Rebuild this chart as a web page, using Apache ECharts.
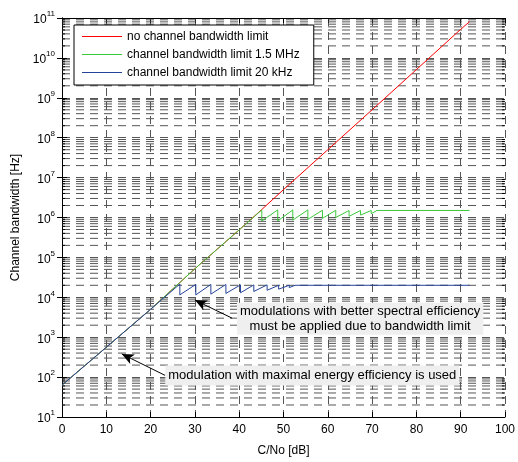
<!DOCTYPE html>
<html><head><meta charset="utf-8">
<script src="https://cdn.jsdelivr.net/npm/echarts@6/dist/echarts.min.js"></script>
<style>html,body{margin:0;padding:0;background:#fff}#c{width:518px;height:462px}</style>
</head><body><div id="c"></div>
<script>
const FONT = 'Liberation Sans, Arial, Helvetica, sans-serif';
const xTicks = [0,10,20,30,40,50,60,70,80,90,100];
const yMin = 10, yMax = 1e11;
const decades = [10,100,1e3,1e4,1e5,1e6,1e7,1e8,1e9,1e10];
const mantissas = [2,3,4,5,6,7,8,9];

const seriesNames = ['no channel bandwidth limit','channel bandwidth limit 1.5 MHz','channel bandwidth limit 20 kHz'];

const redX = [0, 10, 20, 30, 40, 45, 50, 60, 70, 80, 90, 92];
const redY = [63, 560, 5.0e3, 5.2e4, 4.9e5, 1.55e6, 5.0e6, 5.0e7, 5.0e8, 5.1e9, 5.2e10, 8.1e10];

const greenX = [0,10,20,30,40,45.1,45.1,48.7,48.7,52.1,52.1,55.5,55.5,58.8,58.8,61.8,61.8,64.8,64.8,67.4,67.4,69.8,69.8,71.1,92];
const greenY = [63,560,5.0e3,5.2e4,4.9e5,1.55e6,8.2e5,1.55e6,8.2e5,1.55e6,8.6e5,1.55e6,9.0e5,1.52e6,9.5e5,1.52e6,1.0e6,1.5e6,1.07e6,1.5e6,1.15e6,1.5e6,1.25e6,1.5e6,1.5e6];

const blueX = [0,10,20,26.6,26.6,30.2,30.2,33.6,33.6,37.0,37.0,40.3,40.3,43.3,43.3,46.3,46.3,48.9,48.9,51.3,51.3,52.6,92];
const blueY = [63,560,5.0e3,2.15e4,1.15e4,2.1e4,1.15e4,2.1e4,1.2e4,2.1e4,1.25e4,2.05e4,1.3e4,2.05e4,1.4e4,2.05e4,1.5e4,2.0e4,1.6e4,2.0e4,1.75e4,2.0e4,2.0e4];

// annotations (data coordinates)
const ann1Text = 'modulations with better spectral efficiency\nmust be applied due to bandwidth limit';
const ann1Center = [67.3, 2900];
const ann1From = [38.4, 3000];
const ann1Tip = [30.0, 8.5e3];
const ann2Text = 'modulation with maximal energy efficiency is used';
const ann2Center = [56.5, 110];
const ann2From = [23.3, 110];
const ann2Tip = [13.5, 380];

const zip = (xs, ys) => xs.map((x, i) => [x, ys[i]]);
const minorVals = [];
decades.forEach(d => mantissas.forEach(m => minorVals.push([0, d * m])));

const gridDash = [8, 6];
const gridColor = '#555';

const chart = echarts.init(document.getElementById('c'), null, {renderer: 'canvas'});
const labelRich = {
  b: {fontSize: 12, fontFamily: FONT, color: '#000', lineHeight: 16, verticalAlign: 'bottom'},
  s: {fontSize: 8, fontFamily: FONT, color: '#000', lineHeight: 6, verticalAlign: 'top'}
};
const option = {
  backgroundColor: '#fff',
  animation: false,
  textStyle: {fontFamily: FONT},
  grid: {left: 62, right: 13, top: 18, bottom: 38, containLabel: false},
  legend: {
    data: seriesNames,
    orient: 'vertical', left: 74, top: 25,
    icon: 'rect', itemWidth: 40, itemHeight: 1, itemGap: 5,
    padding: [5, 14, 6, 8],
    backgroundColor: '#fff', borderColor: '#000', borderWidth: 1, borderRadius: 0,
    textStyle: {fontSize: 12, color: '#000', fontFamily: FONT, lineHeight: 13},
    selectedMode: false
  },
  xAxis: [{
    type: 'value', min: 0, max: 100, interval: 10, position: 'bottom',
    name: 'C/No [dB]', nameLocation: 'middle', nameGap: 28,
    nameTextStyle: {fontSize: 12, color: '#000', fontFamily: FONT},
    axisLine: {lineStyle: {color: '#000', width: 1}},
    axisTick: {inside: true, length: 5, lineStyle: {color: '#000'}},
    axisLabel: {fontSize: 12, color: '#000', margin: 7, fontFamily: FONT},
    splitLine: {show: true, lineStyle: {color: gridColor, type: gridDash, width: 1}}
  }, {
    type: 'value', min: 0, max: 100, interval: 10, position: 'top',
    axisLine: {lineStyle: {color: '#000', width: 1}},
    axisTick: {inside: true, length: 5, lineStyle: {color: '#000'}},
    axisLabel: {show: false}, splitLine: {show: false}
  }],
  yAxis: [{
    type: 'log', logBase: 10, min: yMin, max: yMax, interval: 1, position: 'left',
    name: 'Channel bandwidth [Hz]', nameLocation: 'middle', nameGap: 33,
    nameTextStyle: {fontSize: 12, color: '#000', fontFamily: FONT},
    axisLine: {show: true, lineStyle: {color: '#000', width: 1}},
    axisTick: {inside: true, length: 5, lineStyle: {color: '#000'}},
    axisLabel: {
      margin: 7, rich: labelRich,
      formatter: v => '{b|10}{s|' + Math.round(Math.log10(v)) + '}'
    },
    splitLine: {show: true, lineStyle: {color: gridColor, type: gridDash, width: 1}}
  }, {
    type: 'log', logBase: 10, min: yMin, max: yMax, interval: 1, position: 'right',
    axisLine: {show: true, lineStyle: {color: '#000', width: 1}},
    axisTick: {inside: true, length: 5, lineStyle: {color: '#000'}},
    axisLabel: {show: false}, splitLine: {show: false}
  }],
  series: [
    {
      name: 'minorgrid', type: 'custom', xAxisIndex: 0, yAxisIndex: 0, z: 1, silent: true,
      data: minorVals,
      renderItem: (params, api) => {
        const v = api.value(1);
        const p0 = api.coord([0, v]);
        const p1 = api.coord([100, v]);
        return {type: 'group', children: [
          {type: 'line', shape: {x1: p0[0], y1: p0[1], x2: p1[0], y2: p1[1]},
           style: {stroke: gridColor, lineWidth: 1, lineDash: gridDash}},
          {type: 'line', shape: {x1: p0[0], y1: p0[1], x2: p0[0] + 3, y2: p0[1]},
           style: {stroke: '#000', lineWidth: 1}},
          {type: 'line', shape: {x1: p1[0] - 3, y1: p1[1], x2: p1[0], y2: p1[1]},
           style: {stroke: '#000', lineWidth: 1}}
        ]};
      }
    },
    {name: seriesNames[0], type: 'line', data: zip(redX, redY), showSymbol: false, symbol: 'none', z: 3,
     lineStyle: {color: '#ff0000', width: 1}, itemStyle: {color: '#ff0000'}},
    {name: seriesNames[1], type: 'line', data: zip(greenX, greenY), showSymbol: false, symbol: 'none', z: 4,
     lineStyle: {color: '#3cc83c', width: 1}, itemStyle: {color: '#3cc83c'}},
    {name: seriesNames[2], type: 'line', data: zip(blueX, blueY), showSymbol: false, symbol: 'none', z: 5,
     lineStyle: {color: '#24449a', width: 1}, itemStyle: {color: '#24449a'}},
    {
      name: 'annotations', type: 'line', data: [], z: 10, silent: true,
      markLine: {
        silent: true, animation: false,
        symbol: ['none', 'arrow'], symbolSize: [8, 12],
        lineStyle: {color: '#000', width: 1, type: 'solid'},
        label: {show: false},
        data: [
          [{coord: ann1From}, {coord: ann1Tip}],
          [{coord: ann2From}, {coord: ann2Tip}]
        ]
      },
      markPoint: {
        silent: true, animation: false, symbol: 'rect', symbolSize: 0,
        label: {show: true, position: 'inside', color: '#000', fontSize: 13, fontFamily: FONT,
          backgroundColor: '#efefef', align: 'center', verticalAlign: 'middle'},
        data: [
          {coord: ann1Center, value: 0, label: {formatter: ann1Text, lineHeight: 15, padding: [1, 3, 1, 3]}},
          {coord: ann2Center, value: 0, label: {formatter: ann2Text, lineHeight: 16, padding: [2, 3, 2, 3]}}
        ]
      }
    }
  ]
};
chart.setOption(option);
</script>
</body></html>
